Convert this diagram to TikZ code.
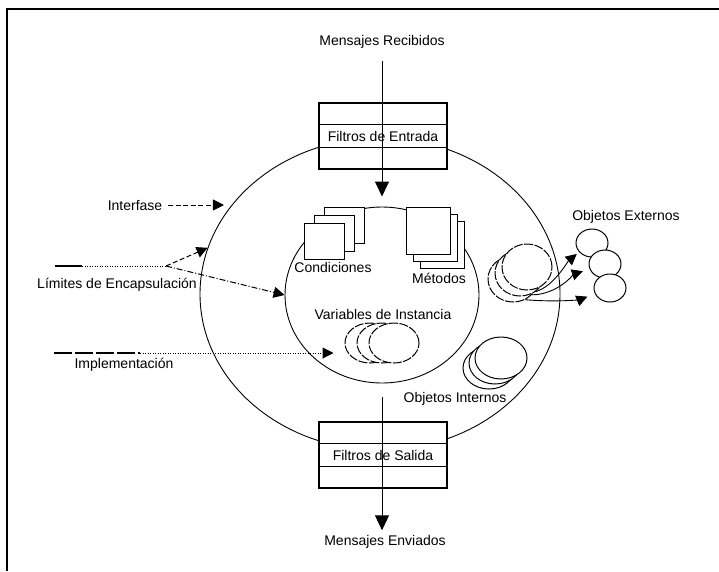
\documentclass[tikz,border=0pt]{standalone}
\usepackage{fontspec}
\setmainfont{Liberation Sans}
\usetikzlibrary{shapes.geometric, arrows.meta, positioning, calc}

\begin{document}
\begin{tikzpicture}[x=1pt, y=-1pt,
  lbl/.style={font=\fontsize{14}{16}\selectfont, inner sep=2pt},
  fbox/.style={draw, fill=white, line width=1.1pt, minimum width=128pt, minimum height=66pt, inner sep=0pt},
  ring/.style={draw, ellipse, line width=0.9pt, inner sep=0pt},
  sheet/.style={draw, fill=white, line width=1pt, inner sep=0pt},
  obj/.style={draw, ellipse, fill=white, line width=1pt, inner sep=0pt, minimum width=50pt, minimum height=40pt},
  dobj/.style={obj, dash pattern=on 9pt off 1.5pt},
  ext/.style={draw, ellipse, fill=white, line width=1pt, inner sep=0pt, minimum width=32pt, minimum height=28pt},
  bigtip/.style={-{Triangle[length=15pt, width=14pt]}},
  tip/.style={-{Triangle[length=11pt, width=11pt]}},
  dotline/.style={line width=1pt, dash pattern=on 1pt off 1.5pt},
  dashline/.style={line width=1pt, dash pattern=on 5pt off 2.5pt},
  dashdot/.style={line width=1pt, dash pattern=on 6pt off 2pt on 1pt off 2pt}
]
  \useasboundingbox (0,0) rectangle (719,571);
  \draw[line width=2pt] (7,571) -- (7,9) -- (719,9);

  % object boundary and filters
  \node[ring, minimum width=360pt, minimum height=312pt] (outer) at (380,294) {};
  \foreach \f/\y in {fin/136, fout/455} {
    \node[fbox] (\f) at (383,\y) {};
    \draw[line width=1.1pt]
      ($(\f.north west)!1/3!(\f.south west)$) -- ($(\f.north east)!1/3!(\f.south east)$)
      ($(\f.north west)!2/3!(\f.south west)$) -- ($(\f.north east)!2/3!(\f.south east)$);
  }
  \node[lbl] at (fin.center) {Filtros de Entrada};
  \node[lbl] at (fout.center) {Filtros de Salida};
  \node[ring, minimum width=194pt, minimum height=176pt] (inner) at (382,295) {};

  \node[lbl] (recib) at (382,42) {Mensajes Recibidos};
  \node[lbl] (envia) at (385,542) {Mensajes Enviados};
  \draw[bigtip, line width=1pt, shorten <=10pt, shorten >=10pt] (recib) -- (inner.north);
  \draw[bigtip, line width=1pt, shorten <=14pt, shorten >=3pt] (inner.south) -- (inner.south |- envia.north);

  % conditions and methods
  \foreach \i/\d in {3/2, 2/1, 1/0}
    \node[sheet, minimum width=40pt, minimum height=36pt] (cond\i) at (324+10*\d, 241-8*\d) {};
  \foreach \i/\d in {3/2, 2/1, 1/0}
    \node[sheet, minimum width=44pt, minimum height=47pt] (met\i) at (428+7*\d, 231+7*\d) {};
  \node[lbl] at (333,267) {Condiciones};
  \node[lbl] at (439,278) {Métodos};

  % instance variables and objects
  \node[lbl] at (383,314) {Variables de Instancia};
  \foreach \i/\d in {3/2, 2/1, 1/0}
    \node[dobj] (var\i) at (394-12*\d, 343) {};
  \foreach \i/\d in {3/2, 2/1, 1/0}
    \node[dobj, minimum height=46pt] (rs\i) at (527-7*\d, 267+6*\d) {};
  \foreach \i/\d in {3/2, 2/1, 1/0}
    \node[obj, minimum width=52pt, minimum height=42pt] (int\i) at (501-6*\d, 358+5*\d) {};
  \node[lbl] at (455,399) {Objetos Internos};

  \node[ext] (ext1) at (592,243) {};
  \node[ext] (ext2) at (605,264) {};
  \node[ext] (ext3) at (610,288) {};
  \node[lbl] at (626,217) {Objetos Externos};
  \draw[tip, line width=0.9pt, shorten >=3pt] (rs2.-50) .. controls +(18,-5) and +(-12,10) .. (ext1.215);
  \draw[tip, line width=0.9pt, shorten >=7pt] (rs3.-40) .. controls +(25,0) and +(-15,5) .. (ext2.198);
  \draw[tip, line width=0.9pt, shorten >=8pt] (rs3.-60) .. controls +(40,3) and +(-12,5) .. (ext3.200);

  % left labels
  \node[lbl] (intf) at (135,205) {Interfase};
  \draw[dashline, tip, shorten <=4pt, shorten >=4pt] (intf.east) -- (intf.east -| outer.151);

  \node[lbl] (limit) at (117,285) {Límites de Encapsulación};
  \coordinate (lim0) at (55,266);
  \coordinate (lim1) at (82,266);
  \coordinate (limfork) at (166,266);
  \draw[line width=1.1pt] (lim0) -- (lim1);
  \draw[dotline] (lim1) -- (limfork);
  \draw[dashline, tip] (limfork) -- (outer.165);
  \draw[dashdot, tip] (limfork) -- (inner.west);

  \node[lbl] (impl) at (124,365) {Implementación};
  \coordinate (imp0) at (54,353);
  \coordinate (imp1) at (140,353);
  \draw[line width=1.1pt, dash pattern=on 18pt off 3pt] (imp0) -- (imp1);
  \draw[dotline, tip, shorten >=11pt] (imp1) -- (imp1 -| var3.west);
\end{tikzpicture}
\end{document}
